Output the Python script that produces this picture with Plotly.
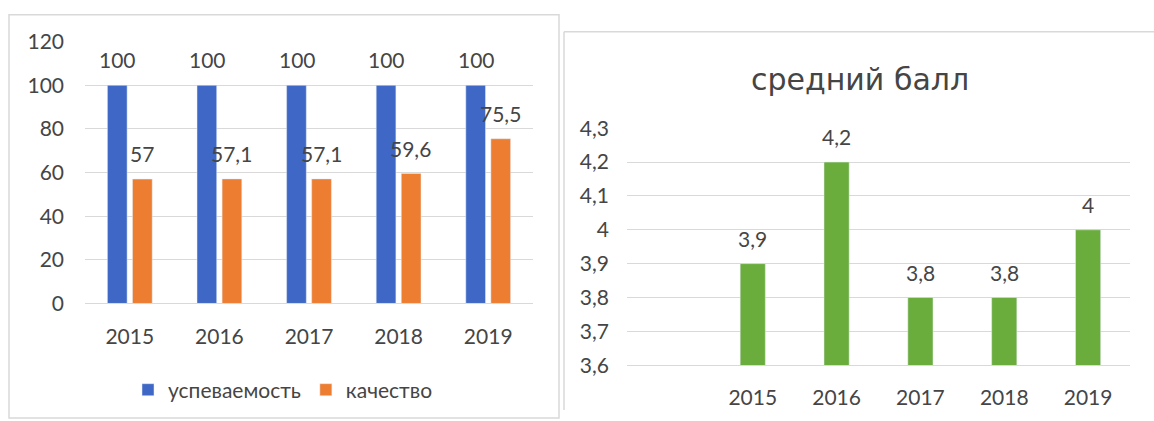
import plotly.graph_objects as go

years = ["2015", "2016", "2017", "2018", "2019"]
uspevaemost = [100, 100, 100, 100, 100]
kachestvo = [57, 57.1, 57.1, 59.6, 75.5]
sredniy_ball = [3.9, 4.2, 3.8, 3.8, 4.0]

series_names = ["успеваемость", "качество"]
title_right = "средний балл"

W, H = 1154, 421
# vertical mapping of the photographed page (measured): shown_y = VOFF + VSC * figure_y
VOFF, VSC = 12.2, 0.945
BLUE = "#3F68C6"
ORANGE = "#ED7D31"
GREEN = "#6AAD3D"
GRID = "#D9D9D9"
TXT = "#454545"
FONT = "Lato"


def fmt(v):
    s = ("%.1f" % v).rstrip("0").rstrip(".")
    return s.replace(".", ",")


def px_x(p):
    return p / W


def px_y(p):
    f = (p - VOFF) / VSC
    return (H - f) / H


def vpx(d):
    return d / VSC


fig = go.Figure()

fig.add_trace(go.Bar(x=years, y=uspevaemost, name=series_names[0], marker_color=BLUE,
                     width=0.22, offset=-0.25, xaxis="x", yaxis="y"))
fig.add_trace(go.Bar(x=years, y=kachestvo, name=series_names[1], marker_color=ORANGE,
                     width=0.22, offset=0.03, xaxis="x", yaxis="y"))
fig.add_trace(go.Bar(x=years, y=sredniy_ball, name=title_right, marker_color=GREEN,
                     width=0.3, offset=-0.15, xaxis="x2", yaxis="y2", showlegend=False))

lab_font = dict(family=FONT, size=21, color=TXT)
annotations = []
for i, yv in enumerate(uspevaemost):
    annotations.append(dict(x=i, y=yv, xref="x", yref="y", text=fmt(yv), showarrow=False,
                            xshift=-12, yshift=vpx(24), yanchor="middle", font=lab_font))
for i, yv in enumerate(kachestvo):
    annotations.append(dict(x=i, y=yv, xref="x", yref="y", text=fmt(yv), showarrow=False,
                            xshift=12, yshift=vpx(24), yanchor="middle", font=lab_font))
for i, yv in enumerate(sredniy_ball):
    annotations.append(dict(x=i, y=yv, xref="x2", yref="y2", text=fmt(yv), showarrow=False,
                            yshift=vpx(24), yanchor="middle", font=lab_font))
annotations.append(dict(x=px_x(860), y=px_y(78), xref="paper", yref="paper", text=title_right,
                        showarrow=False, xanchor="center", yanchor="middle",
                        font=dict(family="DejaVu Sans", size=30, color=TXT)))

shapes = [
    dict(type="rect", xref="paper", yref="paper", x0=px_x(9), x1=px_x(559), y0=px_y(418), y1=px_y(13),
         line=dict(color=GRID, width=1.5)),
    dict(type="line", xref="paper", yref="paper", x0=px_x(564), x1=px_x(564), y0=0, y1=px_y(30),
         line=dict(color=GRID, width=1.5)),
    dict(type="line", xref="paper", yref="paper", x0=px_x(564), x1=1, y0=px_y(30), y1=px_y(30),
         line=dict(color=GRID, width=1.5)),
]

axis_font = dict(family=FONT, size=21, color=TXT)

fig.update_layout(
    width=W, height=H,
    margin=dict(l=0, r=0, t=0, b=0),
    paper_bgcolor="white", plot_bgcolor="white",
    separators=", ",
    barmode="group",
    font=dict(family=FONT, color=TXT),
    xaxis=dict(domain=[px_x(85), px_x(533)], anchor="y", type="category", range=[-0.5, 4.5],
               showgrid=False, showline=True, linecolor=GRID, ticks="",
               tickfont=axis_font, ticklabelstandoff=14),
    yaxis=dict(domain=[px_y(303), px_y(40)], anchor="x", range=[0, 120], dtick=20,
               showgrid=True, gridcolor=GRID, zeroline=False, showline=False,
               tickfont=axis_font, ticklabelstandoff=20),
    xaxis2=dict(domain=[px_x(627), px_x(1130)], anchor="y2", type="category", range=[-1.5, 4.5],
                showgrid=False, showline=True, linecolor=GRID, ticks="",
                tickfont=axis_font, ticklabelstandoff=14),
    yaxis2=dict(domain=[px_y(365), px_y(127)], anchor="x2", range=[3.6, 4.3], dtick=0.1,
                showgrid=True, gridcolor=GRID, zeroline=False, showline=False,
                tickfont=axis_font, ticklabelstandoff=17),
    showlegend=True,
    legend=dict(orientation="h", x=px_x(128), y=px_y(390), xanchor="left", yanchor="middle",
                font=dict(family=FONT, size=21, color=TXT), bgcolor="rgba(0,0,0,0)"),
    annotations=annotations,
    shapes=shapes,
)

fig.write_html("out.html", config={"displayModeBar": False},
               post_script="document.body.style.margin='0';document.body.style.overflow='hidden';")
